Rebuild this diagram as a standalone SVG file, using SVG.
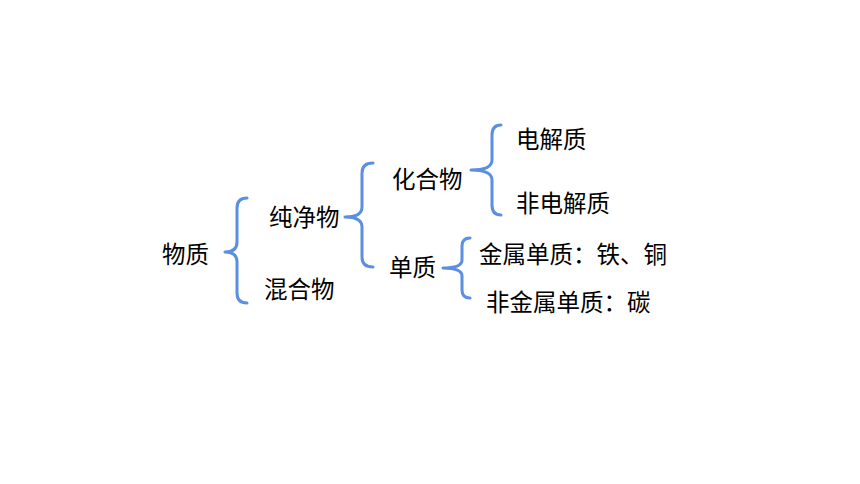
<svg xmlns="http://www.w3.org/2000/svg" width="860" height="484" viewBox="0 0 860 484">
<style>
.t{font-family:"Noto Sans CJK SC","Noto Sans",sans-serif;font-size:23.5px;fill:#000}
.b{fill:none;stroke:#5b8fe0;stroke-width:3;stroke-linecap:round;stroke-linejoin:round}
</style>
<rect width="860" height="484" fill="#fff"/>
<g id="connectors">
<path class="b" d="M247 198 Q237 198 237 208 L237 242 Q237 252 225 252 Q237 252 237 262 L237 293 Q237 303 247 303"/>
<path class="b" d="M373 163 Q362 163 362 173 L362 207 Q362 217 345 217 Q362 217 362 227 L362 257 Q362 267 373 267"/>
<path class="b" d="M501 125 Q492 125 492 135 L492 160 Q492 170 471 170 Q492 170 492 180 L492 205 Q492 215 501 215"/>
<path class="b" d="M470 238 Q462 238 462 246 L462 260 Q462 268 443 268 Q462 268 462 276 L462 290 Q462 298 470 298"/>
</g>
<g id="n-wuzhi"><text class="t" x="162" y="263">物质</text></g>
<g id="n-chunjingwu"><text class="t" x="269" y="226">纯净物</text></g>
<g id="n-hunhewu"><text class="t" x="264" y="298">混合物</text></g>
<g id="n-huahewu"><text class="t" x="392" y="188">化合物</text></g>
<g id="n-danzhi"><text class="t" x="389" y="276">单质</text></g>
<g id="n-dianjiezhi"><text class="t" x="516" y="148">电解质</text></g>
<g id="n-feidianjiezhi"><text class="t" x="516" y="212">非电解质</text></g>
<g id="n-jinshu"><text class="t" x="479" y="263">金属单质：铁、铜</text></g>
<g id="n-feijinshu"><text class="t" x="486" y="311">非金属单质：碳</text></g>
</svg>
